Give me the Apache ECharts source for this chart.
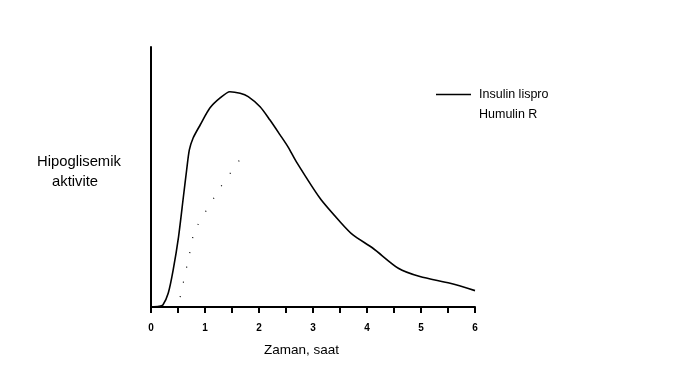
<!DOCTYPE html>
<html><head><meta charset="utf-8">
<script src="https://cdn.jsdelivr.net/npm/echarts@6/dist/echarts.min.js"></script>
<style>html,body{margin:0;padding:0;background:#fff}#c{width:700px;height:369px}</style>
</head><body><div id="c"></div>
<script>
const lisproHours = [0, 0.15, 0.22, 0.32, 0.41, 0.51, 0.6, 0.66, 0.71, 0.78, 0.91, 1.09, 1.28, 1.46, 1.65, 1.8, 2.02, 2.2, 2.39, 2.54, 2.69, 3.13, 3.5, 3.74, 4.11, 4.58, 4.98, 5.54, 6.0];
const lisproValues = [0, 0.3, 0.8, 5.4, 14.2, 27, 42.4, 52.7, 60.4, 65, 70, 76.5, 80.4, 82.8, 82.2, 80.9, 77, 72, 66.2, 61.5, 55.9, 41.8, 32.8, 27.7, 22.6, 14.9, 11.7, 9.1, 6.3];
const humulinHours = [0.54, 0.74, 0.78, 0.85, 1.28, 1.52, 1.69];
const humulinValues = [3.8, 23, 27.3, 31, 45.8, 53, 58];
const xTicks = [0, 1, 2, 3, 4, 5, 6];
const seriesNames = ['Insulin lispro', 'Humulin R'];
const xName = 'Zaman, saat';
const yName = ['Hipoglisemik', 'aktivite'];

const zip = (a, b) => a.map((v, i) => [v, b[i]]);
const chart = echarts.init(document.getElementById('c'));
chart.setOption({
  animation: false,
  backgroundColor: '#fff',
  grid: { left: 151, right: 225, top: 47, bottom: 62 },
  legend: {
    orient: 'vertical', left: 436, top: 88, padding: 0, itemWidth: 35, itemHeight: 14, itemGap: 7,
    textStyle: { fontFamily: 'Liberation Sans, Arial', fontSize: 12.5, color: '#000', padding: [0, 0, 0, 3] },
    data: [
      { name: seriesNames[0], icon: 'path://M0,0 L35,0 L35,1.6 L0,1.6 Z', itemStyle: { color: '#000' } },
      { name: seriesNames[1], icon: 'path://M0,0 L35,0 L35,1.6 L0,1.6 Z', itemStyle: { color: '#000', opacity: 0 } }
    ]
  },
  xAxis: {
    type: 'value', min: 0, max: 6, interval: 0.5,
    axisLine: { lineStyle: { color: '#000', width: 2 } },
    axisTick: { show: true, length: 6, lineStyle: { color: '#000', width: 2 } },
    splitLine: { show: false },
    axisLabel: {
      margin: 16, color: '#000', fontFamily: 'Liberation Sans, Arial', fontSize: 10, fontWeight: 'bold',
      formatter: v => (xTicks.includes(v) ? String(v) : '')
    }
  },
  yAxis: {
    type: 'value', min: 0, max: 100,
    axisLine: { show: true, lineStyle: { color: '#000', width: 2 } },
    axisTick: { show: false }, axisLabel: { show: false }, splitLine: { show: false }
  },
  graphic: [
    { type: 'text', left: 264, top: 343, style: { text: xName, font: '13.5px "Liberation Sans", Arial', fill: '#000' } },
    { type: 'text', left: 37, top: 154, style: { text: yName[0], font: '14.8px "Liberation Sans", Arial', fill: '#000' } },
    { type: 'text', left: 52, top: 174, style: { text: yName[1], font: '14.8px "Liberation Sans", Arial', fill: '#000' } }
  ],
  series: [
    { name: seriesNames[0], type: 'line', smooth: 0.25, symbol: 'none', data: zip(lisproHours, lisproValues),
      lineStyle: { color: '#000', width: 1.6 }, itemStyle: { color: '#000' } },
    { name: seriesNames[1], type: 'line', smooth: 0.25, symbol: 'none', data: zip(humulinHours, humulinValues),
      lineStyle: { color: '#000', width: 1.2, type: [1, 14] }, itemStyle: { color: '#000' } }
  ]
});
</script></body></html>
